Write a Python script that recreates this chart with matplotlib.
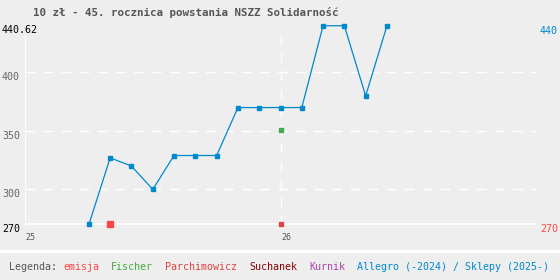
import matplotlib.pyplot as plt
from matplotlib.patches import Rectangle

# ================= Data ==================
title = "10 zł - 45. rocznica powstania NSZZ Solidarność"

# months counted from Jan 2025 (0 = 2025-01)
allegro_month = [3, 4, 5, 6, 7, 8, 9, 10, 11, 12, 13, 14, 15, 16, 17]
allegro_price = [270, 327, 320, 300, 329, 329, 329, 370, 370, 370, 370, 440, 440, 380, 440]

emisja_month = [4]
emisja_price = [270]
fischer_month = [12]
fischer_price = [351]
parchimowicz_month = [12]
parchimowicz_price = [270]

y_min, y_max = 270, 440.62
grid_values = [300, 350, 400]
year_ticks = [0, 12]
year_labels = ["25", "26"]

legend_items = ["emisja", "Fischer", "Parchimowicz", "Suchanek", "Kurnik",
                "Allegro (-2024) / Sklepy (2025-)"]
legend_colors = ["#ff4444", "#44aa44", "#dd4444", "#880000", "#aa44aa", "#0088cc"]

# ================= Figure ==================
W, H = 560, 280
bg = "#eeeeee"
fig = plt.figure(figsize=(W / 100, H / 100), dpi=100, facecolor=bg)
ax = fig.add_axes([25 / W, (H - 224.5) / H, 511 / W, 199.5 / H])
ax.set_facecolor(bg)
for s in ax.spines.values():
    s.set_visible(False)
ax.set_xlim(0, 24)
ax.set_ylim(y_min, y_max)
ax.set_xticks([])
ax.set_yticks([])

mono = "DejaVu Sans Mono"

# grid
for v in grid_values:
    ax.axhline(v, color="white", lw=1, dashes=(7, 6), zorder=1)
ax.axhline(y_min, color="white", lw=1.2, zorder=1)
ax.axvline(0, ymax=0.952, color="white", lw=1.2, zorder=1)
ax.axvline(12, ymax=0.952, color="white", lw=1, dashes=(7, 6), zorder=1)

# series
ax.plot(allegro_month, allegro_price, color="#0088cc", lw=0.9, marker="s",
        ms=2.8, mec="#0088cc", zorder=3, clip_on=False)
ax.plot(emisja_month, emisja_price, ls="none", marker="s", ms=4.5,
        color="#ff4444", zorder=4, clip_on=False)
ax.plot(fischer_month, fischer_price, ls="none", marker="s", ms=2.3,
        color="#44aa55", zorder=4, clip_on=False)
ax.plot(parchimowicz_month, parchimowicz_price, ls="none", marker="s", ms=2.3,
        color="#dd4444", zorder=4, clip_on=False)

# y labels left
ytr = ax.get_yaxis_transform()
lx = -23 / 511
ax.text(lx, y_max, "440.62", transform=ytr, ha="left", va="top", fontsize=7.2,
        family=mono, color="black")
for v in grid_values:
    ax.text(lx, v, str(v), transform=ytr, ha="left", va="top", fontsize=7.2,
            family=mono, color="#666666")
ax.text(lx, y_min, str(y_min), transform=ytr, ha="left", va="top", fontsize=7.2,
        family=mono, color="black")

# y labels right
rx = 1 + 22 / 511
ax.text(rx, max(allegro_price), str(max(allegro_price)), transform=ytr,
        ha="right", va="top", fontsize=7.2, family=mono, color="#0088cc")
ax.text(rx, emisja_price[0], str(emisja_price[0]), transform=ytr,
        ha="right", va="top", fontsize=7.2, family=mono, color="#ff4444")

# x labels
xtr = ax.get_xaxis_transform()
for t, lab in zip(year_ticks, year_labels):
    ax.text(t + 0.03, -0.045, lab, transform=xtr, ha="left", va="top",
            fontsize=6, family=mono, color="#555555")

# title
fig.text(33 / W, 1 - 12 / H, title, ha="left", va="center", fontsize=7.8,
         family=mono, weight="bold", color="#555555")

# legend band
fig.patches.append(Rectangle((0, 0), 1, (H - 250) / H, transform=fig.transFigure,
                             facecolor=bg, edgecolor="none", zorder=0))
fig.patches.append(Rectangle((0, (H - 253) / H), 1, 3 / H, transform=fig.transFigure,
                             facecolor="white", edgecolor="none", zorder=0))
cw = 6.0
x = 9
fig.text(x / W, 1 - 267 / H, "Legenda:", ha="left", va="center", fontsize=7.2,
         family=mono, color="#555555")
x += cw * 9
for name, col in zip(legend_items, legend_colors):
    fig.text(x / W, 1 - 267 / H, name, ha="left", va="center", fontsize=7.2,
             family=mono, color=col)
    x += cw * (len(name) + 2)

plt.savefig("out.png", dpi=100, facecolor=bg)
